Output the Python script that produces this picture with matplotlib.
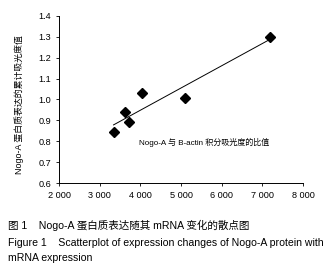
import numpy as np
import matplotlib
matplotlib.use("Agg")
import matplotlib.pyplot as plt

plt.rcParams['font.family'] = ['Liberation Sans', 'Noto Sans CJK SC', 'DejaVu Sans']

mrna = [3340, 3630, 3730, 4040, 5100, 7180]
protein = [0.845, 0.94, 0.89, 1.03, 1.008, 1.30]
xticks = [2000, 3000, 4000, 5000, 6000, 7000, 8000]
xticklabels = ["2 000", "3 000", "4 000", "5 000", "6 000", "7 000", "8 000"]
yticks = [0.6, 0.7, 0.8, 0.9, 1.0, 1.1, 1.2, 1.3, 1.4]
yticklabels = ["0.6", "0.7", "0.8", "0.9", "1.0", "1.1", "1.2", "1.3", "1.4"]

fig = plt.figure(figsize=(3.3, 2.7), dpi=100)
ax = fig.add_axes([0.179, 0.322, 0.739, 0.619])

ax.plot(mrna, protein, linestyle='none', marker='D', color='black', markersize=5.0)
k, b = np.polyfit(mrna, protein, 1)
xs = np.array([min(mrna), max(mrna)])
ax.plot(xs, k * xs + b, color='black', linewidth=0.7)

ax.set_xlim(2000, 8000)
ax.set_ylim(0.6, 1.4)
ax.set_xticks(xticks)
ax.set_xticklabels(xticklabels)
ax.set_yticks(yticks)
ax.set_yticklabels(yticklabels)
ax.tick_params(labelsize=6.6, length=2.5, width=0.6, pad=3, colors='black')
for s in ['top', 'right']:
    ax.spines[s].set_visible(False)
for s in ['left', 'bottom']:
    ax.spines[s].set_linewidth(0.7)

ax.set_ylabel("Nogo-A 蛋白质表达的累计吸光度值", fontsize=6.4)
ax.yaxis.set_label_coords(-0.145, 0.47)
ax.text(0.596, 0.241, "Nogo-A 与 B-actin 积分吸光度的比值", transform=ax.transAxes,
        fontsize=5.8, ha='center', va='center')

fig.text(0.025, 0.167, "图 1    Nogo-A 蛋白质表达随其 mRNA 变化的散点图", fontsize=7.6, va='center')
fig.text(0.025, 0.100, "Figure 1    Scatterplot of expression changes of Nogo-A protein with",
         fontsize=7.6, va='center')
fig.text(0.025, 0.044, "mRNA expression", fontsize=7.6, va='center')

fig.savefig("out.png", dpi=100)
